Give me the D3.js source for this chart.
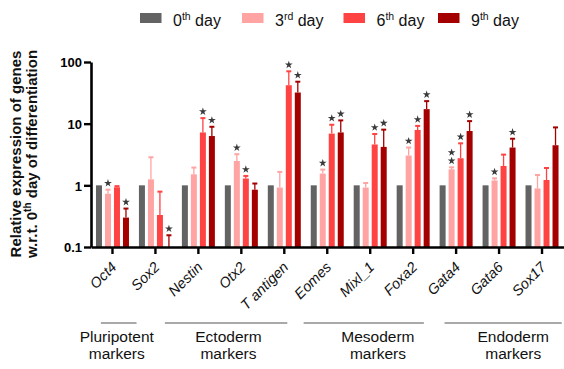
<!DOCTYPE html>
<html>
<head>
<meta charset="utf-8">
<script src="https://cdn.jsdelivr.net/npm/d3@7"></script>
<style>
  body { margin: 0; background: #fff; }
  svg { display: block; font-family: "Liberation Sans", Arial, sans-serif; }
</style>
</head>
<body>
<svg id="chart" width="564" height="369"></svg>
<script>
// Genes on the x axis
const genes = ['Oct4', 'Sox2', 'Nestin', 'Otx2', 'T antigen', 'Eomes', 'Mixl_1', 'Foxa2', 'Gata4', 'Gata6', 'Sox17'];
const days = ['0', '3', '6', '9'];
const daySup = ['th', 'rd', 'th', 'th'];

// Mean relative expression per day
const day0 = [1, 1, 1, 1, 1, 1, 1, 1, 1, 1, 1];
const day3 = [0.73, 1.25, 1.51, 2.48, 0.92, 1.55, 0.92, 3.04, 1.82, 1.2, 0.89];
const day6 = [0.93, 0.33, 7.2, 1.29, 42, 6.9, 4.6, 7.9, 2.75, 2.06, 1.22];
const day9 = [0.30, 0.1, 6.3, 0.85, 32, 7.2, 4.2, 17.2, 7.6, 4.1, 4.47];

// Upper error (SD)
const day0Sd = [0, 0, 0, 0, 0, 0, 0, 0, 0, 0, 0];
const day3Sd = [0.12, 1.6, 0.43, 0.72, 0.73, 0.25, 0.17, 1.06, 0.14, 0.1, 0.58];
const day6Sd = [0.04, 0.46, 5.1, 0.13, 28.6, 2.7, 2.2, 1.3, 2.05, 1.09, 0.69];
const day9Sd = [0.12, 0.055, 2.6, 0.22, 15.9, 4.1, 3.8, 6.0, 3.4, 1.6, 4.23];

// Number of significance stars
const day0Sig = [0, 0, 0, 0, 0, 0, 0, 0, 0, 0, 0];
const day3Sig = [1, 0, 0, 1, 0, 1, 0, 1, 2, 1, 0];
const day6Sig = [0, 0, 1, 1, 1, 1, 1, 1, 1, 0, 0];
const day9Sig = [1, 1, 1, 0, 1, 1, 1, 1, 1, 1, 0];

const yTicks = [0.1, 1, 10, 100];

// Marker groups under the axis, in category index units
const groupNames = ['Pluripotent', 'Ectoderm', 'Mesoderm', 'Endoderm'];
const groupFrom = [-0.27, 1.22, 4.45, 7.73];
const groupTo = [0.56, 4.07, 7.25, 10.46];
const groupMid = [0.1, 2.7, 6.18, 9.33];

const COLORS = ['#636363', '#ffa3a3', '#ff4343', '#a40000'];

const means = [day0, day3, day6, day9];
const sds = [day0Sd, day3Sd, day6Sd, day9Sd];
const sigs = [day0Sig, day3Sig, day6Sig, day9Sig];

const svg = d3.select('#chart');
const plotLeft = 91, plotRight = 563.5, plotTop = 62, plotBottom = 247;

const x = d3.scaleBand().domain(genes).range([plotLeft, plotRight]);
const xSub = d3.scaleBand().domain(days).range([0, 36]).paddingInner(1 / 3).paddingOuter(1 / 6);
const y = d3.scaleLog().domain([0.1, 100]).range([plotBottom, plotTop]);
const xIdx = d3.scaleLinear().domain([0, 1]).range([x(genes[0]) + x.bandwidth() / 2, x(genes[1]) + x.bandwidth() / 2]);

// Flatten into bar records
const bars = [];
genes.forEach((g, i) => days.forEach((d, k) => {
  bars.push({ gene: g, day: d, k, v: means[k][i], sd: sds[k][i], sig: sigs[k][i] });
}));
const barX = b => x(b.gene) + x.bandwidth() / 2 - 18 + xSub(b.day);

// Error bars (upper only)
const errs = svg.append('g').selectAll('g')
  .data(bars.filter(b => b.sd > 0))
  .join('g')
  .attr('stroke', b => COLORS[b.k])
  .attr('stroke-width', 1.3);
errs.append('line')
  .attr('x1', b => barX(b) + xSub.bandwidth() / 2)
  .attr('x2', b => barX(b) + xSub.bandwidth() / 2)
  .attr('y1', b => y(b.v))
  .attr('y2', b => y(b.v + b.sd));
errs.append('line')
  .attr('x1', b => barX(b) + xSub.bandwidth() / 2 - 2.5)
  .attr('x2', b => barX(b) + xSub.bandwidth() / 2 + 2.5)
  .attr('y1', b => y(b.v + b.sd))
  .attr('y2', b => y(b.v + b.sd))
  .attr('stroke-width', 2);

// Bars
svg.append('g').selectAll('rect')
  .data(bars)
  .join('rect')
  .attr('x', barX)
  .attr('y', b => y(b.v))
  .attr('width', xSub.bandwidth())
  .attr('height', b => plotBottom - y(b.v))
  .attr('fill', b => COLORS[b.k]);

// Significance stars
const stars = [];
bars.forEach(b => {
  for (let s = 0; s < b.sig; s++) stars.push({ b, s });
});
svg.append('g').selectAll('path')
  .data(stars)
  .join('path')
  .attr('d', d3.symbol(d3.symbolStar, 19))
  .attr('fill', '#3a3a3a')
  .attr('transform', d => `translate(${barX(d.b) + xSub.bandwidth() / 2},${y(d.b.v + d.b.sd) - 6.5 - d.s * 8.3})`);

// Y axis
const yAxis = svg.append('g')
  .attr('transform', `translate(${plotLeft},0)`)
  .call(d3.axisLeft(y).tickValues(yTicks).tickFormat(d => d).tickSize(7).tickSizeOuter(0));
yAxis.select('.domain').attr('stroke', '#000').attr('stroke-width', 2.6);
yAxis.selectAll('.tick line').attr('stroke-width', 2.4);
yAxis.selectAll('.tick text')
  .attr('font-size', 13).attr('font-weight', 'bold').attr('fill', '#000')
  .attr('font-family', '"Liberation Sans", Arial, sans-serif').attr('x', -9).attr('dy', '0.36em');

// X axis
const xAxis = svg.append('g')
  .attr('transform', `translate(0,${plotBottom})`)
  .call(d3.axisBottom(x).tickSize(7).tickSizeOuter(0));
xAxis.select('.domain').attr('stroke', '#000').attr('stroke-width', 2.6);
xAxis.selectAll('.tick line').attr('stroke-width', 2.4);
xAxis.selectAll('.tick text')
  .attr('font-size', 14.5).attr('font-style', 'italic').attr('fill', '#111')
  .attr('font-family', '"Liberation Sans", Arial, sans-serif')
  .attr('text-anchor', 'end')
  .attr('transform', 'translate(5,21) rotate(-45)')
  .attr('x', 0).attr('y', 0).attr('dy', 0);

// Y title
const yTitle = svg.append('text')
  .attr('transform', 'translate(0,154) rotate(-90)')
  .attr('text-anchor', 'middle')
  .attr('font-size', 15).attr('font-weight', 'bold').attr('fill', '#111');
yTitle.append('tspan').attr('x', 0).attr('y', 21).text('Relative expression of genes');
const l2 = yTitle.append('tspan').attr('x', 0).attr('y', 37);
l2.append('tspan').text('w.r.t. 0');
l2.append('tspan').attr('font-size', 10).attr('dy', -6).text('th');
l2.append('tspan').attr('dy', 6).text(' day of differentiation');

// Legend
const legend = svg.append('g').selectAll('g')
  .data(days)
  .join('g')
  .attr('transform', (d, k) => `translate(${[140, 242, 343.5, 438][k]},0)`);
legend.append('rect')
  .attr('x', 0).attr('y', 13).attr('width', 21.5).attr('height', 10)
  .attr('fill', (d, k) => COLORS[k]);
const lt = legend.append('text')
  .attr('x', 33).attr('y', 26)
  .attr('font-size', 16).attr('fill', '#111');
lt.append('tspan').text(d => d);
lt.append('tspan').attr('font-size', 10.5).attr('dy', -6).text((d, k) => daySup[k]);
lt.append('tspan').attr('dy', 6).text(' day');

// Marker groups
const grp = svg.append('g').selectAll('g')
  .data(groupNames)
  .join('g');
grp.append('line')
  .attr('x1', (d, i) => xIdx(groupFrom[i]))
  .attr('x2', (d, i) => xIdx(groupTo[i]))
  .attr('y1', 323).attr('y2', 323)
  .attr('stroke', '#555').attr('stroke-width', 1.2);
const gt = grp.append('text')
  .attr('text-anchor', 'middle')
  .attr('font-size', 15.5).attr('fill', '#111');
gt.append('tspan').attr('x', (d, i) => xIdx(groupMid[i])).attr('y', 342).text(d => d);
gt.append('tspan').attr('x', (d, i) => xIdx(groupMid[i])).attr('y', 359).text('markers');
</script>
</body>
</html>
